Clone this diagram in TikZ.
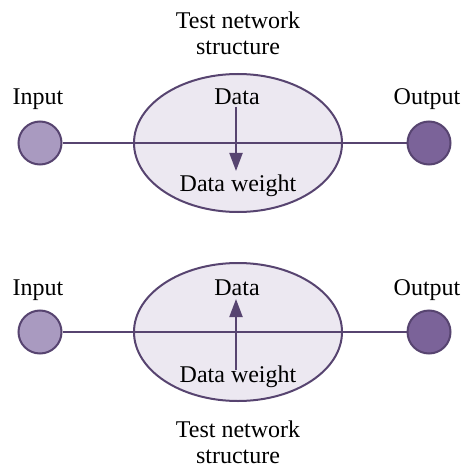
\documentclass[tikz,border=0pt]{standalone}
\usepackage{fontspec}
\setmainfont{Liberation Serif}
\usetikzlibrary{shapes.geometric,arrows.meta}
\definecolor{edgepurple}{HTML}{574470}
\definecolor{shellfill}{HTML}{ECE8F1}
\definecolor{infill}{HTML}{A99AC0}
\definecolor{outfill}{HTML}{7B6399}
\tikzset{
  lbl/.style={font=\fontsize{24}{27}\selectfont, inner sep=0pt, anchor=base},
  shell/.style={ellipse, draw=edgepurple, fill=shellfill, line width=2pt,
    minimum width=208pt, minimum height=138pt, inner sep=0pt},
  inport/.style={circle, draw=edgepurple, fill=infill, line width=2pt,
    minimum size=43pt, inner sep=0pt},
  outport/.style={circle, draw=edgepurple, fill=outfill, line width=2pt,
    minimum size=43pt, inner sep=0pt},
  wire/.style={draw=edgepurple, line width=2pt},
  flow/.style={draw=edgepurple, line width=2pt,
    -{Triangle[length=18pt,width=13pt]}},
}
\begin{document}
\begin{tikzpicture}[x=1pt,y=-1pt]
\useasboundingbox (0,0) rectangle (462,470);

% upper network: data flows down to the weight
\node[lbl] (t1a) at (238,29) {Test network};
\node[lbl] (t1b) at (238,55) {structure};
\node[shell] (s1) at (238,143) {};
\node[inport] (i1) at (40,143) {};
\node[outport] (o1) at (429,143) {};
\draw[wire] (i1) -- (o1);
\node[lbl] (in1) at (38,105) {Input};
\node[lbl] (out1) at (427,105) {Output};
\node[lbl] (d1) at (237,105) {Data};
\node[lbl] (w1) at (238,192) {Data weight};
\coordinate (a1s) at (236,107);
\coordinate (a1e) at (236,171);
\draw[flow] (a1s) -- (a1e);

% lower network: the weight feeds back up to the data
\node[shell] (s2) at (238,332) {};
\node[inport] (i2) at (40,332) {};
\node[outport] (o2) at (429,332) {};
\draw[wire] (i2) -- (o2);
\node[lbl] (in2) at (38,295) {Input};
\node[lbl] (out2) at (427,295) {Output};
\node[lbl] (d2) at (237,295) {Data};
\node[lbl] (w2) at (238,382) {Data weight};
\coordinate (a2s) at (236,370);
\coordinate (a2e) at (236,299);
\draw[flow] (a2s) -- (a2e);
\node[lbl] (t2a) at (238,437) {Test network};
\node[lbl] (t2b) at (238,463) {structure};
\end{tikzpicture}
\end{document}
